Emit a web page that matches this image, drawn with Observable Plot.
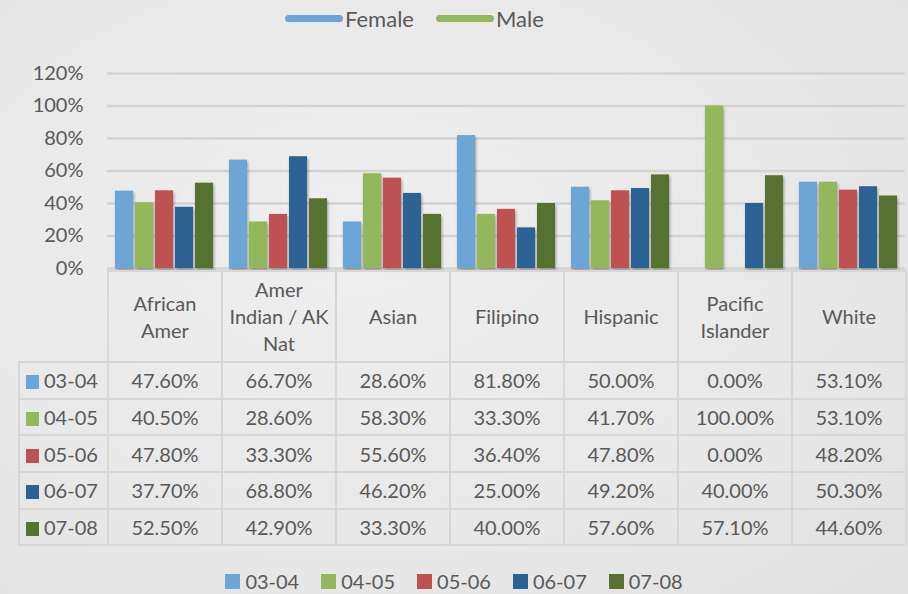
<!DOCTYPE html>
<html>
<head>
<meta charset="utf-8">
<script src="https://cdn.jsdelivr.net/npm/d3@7"></script>
<script src="https://cdn.jsdelivr.net/npm/@observablehq/plot@0.6"></script>
<style>
  html, body { margin: 0; padding: 0; }
  body {
    width: 908px; height: 594px; position: relative; overflow: hidden;
    background: radial-gradient(ellipse at 40% 40%, #efefef 0%, #e8e8e8 60%, #e1e1e1 100%);
    font-family: Lato, "Open Sans", sans-serif; color: #595959;
  }
  #topLegend { position: absolute; left: 285px; top: 4px; height: 28px; display: flex; align-items: center;
    font-family: "Liberation Sans Narrow", Lato, sans-serif; font-size: 22px; color: #595959; }
  #topLegend .item { display: flex; align-items: center; margin-right: 22px; }
  #topLegend .line { width: 58px; height: 7px; border-radius: 4px; margin-right: 2px; }
  #chart { position: absolute; left: 0; top: 40px; }
  #chart g[aria-label="bar"] rect { filter: drop-shadow(1px 2px 1.5px rgba(0,0,0,0.35)); }
  #tbl { position: absolute; left: 18px; top: 270px; border-collapse: collapse; table-layout: fixed;
    font-size: 20px; color: #595959; }
  #tbl td { border: 2px solid #d7d7d7; text-align: center; padding: 0; }
  #tbl tr.hdr td { height: 89px; line-height: 27px; }
  #tbl tr.hdr td.blank { border-top: none; border-left: none; }
  #tbl tr.row td { height: 34.7px; }
  #tbl td.lab { text-align: left; padding-left: 6px; white-space: nowrap; }
  .sw { display: inline-block; width: 13px; height: 14px; margin-right: 5px; vertical-align: -1px; }
  #botLegend { position: absolute; left: 0; width: 908px; top: 569px; display: flex; justify-content: center;
    font-size: 20px; color: #595959; }
  #botLegend .item { display: flex; align-items: center; margin: 0 11px; }
  #botLegend .sw { width: 15px; height: 15px; margin-right: 5px; }
</style>
</head>
<body>
<div id="topLegend"></div>
<div id="chart"></div>
<table id="tbl"></table>
<div id="botLegend"></div>
<script>
// ---- data ----
const categories = ["African Amer", "Amer Indian / AK Nat", "Asian", "Filipino", "Hispanic", "Pacific Islander", "White"];
const categoryLines = [["African", "Amer"], ["Amer", "Indian / AK", "Nat"], ["Asian"], ["Filipino"], ["Hispanic"], ["Pacific", "Islander"], ["White"]];
const seriesNames = ["03-04", "04-05", "05-06", "06-07", "07-08"];
const values0304 = [47.6, 66.7, 28.6, 81.8, 50.0, 0.0, 53.1];
const values0405 = [40.5, 28.6, 58.3, 33.3, 41.7, 100.0, 53.1];
const values0506 = [47.8, 33.3, 55.6, 36.4, 47.8, 0.0, 48.2];
const values0607 = [37.7, 68.8, 46.2, 25.0, 49.2, 40.0, 50.3];
const values0708 = [52.5, 42.9, 33.3, 40.0, 57.6, 57.1, 44.6];
const seriesColors = ["#6ca6d6", "#93b75b", "#bf5152", "#2c6294", "#577230"];
const yTicks = [0, 20, 40, 60, 80, 100, 120];
const topLegendNames = ["Female", "Male"];
const topLegendColors = ["#6ca6d6", "#93b75b"];

const seriesValues = [values0304, values0405, values0506, values0607, values0708];
const data = [];
categories.forEach((c, ci) => seriesNames.forEach((s, si) => data.push({category: c, series: s, value: seriesValues[si][ci]})));

// ---- top legend ----
const tl = document.getElementById("topLegend");
topLegendNames.forEach((n, i) => {
  const it = document.createElement("div"); it.className = "item";
  const ln = document.createElement("span"); ln.className = "line"; ln.style.background = topLegendColors[i];
  const tx = document.createElement("span"); tx.textContent = n;
  it.append(ln, tx); tl.append(it);
});

// ---- chart ----
const chart = Plot.plot({
  width: 908, height: 232,
  marginLeft: 107, marginRight: 3, marginTop: 33, marginBottom: 4,
  style: {background: "transparent", fontFamily: "Lato, sans-serif", fontSize: "20px", color: "#595959", overflow: "visible"},
  fx: {domain: categories, padding: 0, axis: null, label: null},
  x: {domain: seriesNames, paddingInner: 0.11, paddingOuter: 0.36, axis: null},
  y: {domain: [0, 120], ticks: yTicks, tickFormat: d => d + "%", tickSize: 0, tickPadding: 24, label: null},
  color: {domain: seriesNames, range: seriesColors},
  marks: [
    Plot.ruleY(yTicks, {stroke: "#d3d3d3", strokeWidth: 2.5}),
    Plot.barY(data, {fx: "category", x: "series", y: "value", fill: "series"})
  ]
});
document.getElementById("chart").append(chart);

// ---- data table ----
const tbl = document.getElementById("tbl");
const cg = document.createElement("colgroup");
[89, ...categories.map(() => 114)].forEach(w => { const c = document.createElement("col"); c.style.width = w + "px"; cg.append(c); });
tbl.append(cg);
const hr = document.createElement("tr"); hr.className = "hdr";
const blank = document.createElement("td"); blank.className = "blank"; hr.append(blank);
categoryLines.forEach(lines => { const td = document.createElement("td"); td.innerHTML = lines.join("<br>"); hr.append(td); });
tbl.append(hr);
seriesNames.forEach((s, si) => {
  const tr = document.createElement("tr"); tr.className = "row";
  const lab = document.createElement("td"); lab.className = "lab";
  lab.innerHTML = `<span class="sw" style="background:${seriesColors[si]}"></span>${s}`;
  tr.append(lab);
  seriesValues[si].forEach(v => { const td = document.createElement("td"); td.textContent = v.toFixed(2) + "%"; tr.append(td); });
  tbl.append(tr);
});

// ---- bottom legend ----
const bl = document.getElementById("botLegend");
seriesNames.forEach((s, i) => {
  const it = document.createElement("div"); it.className = "item";
  it.innerHTML = `<span class="sw" style="background:${seriesColors[i]}"></span>${s}`;
  bl.append(it);
});
</script>
</body>
</html>
